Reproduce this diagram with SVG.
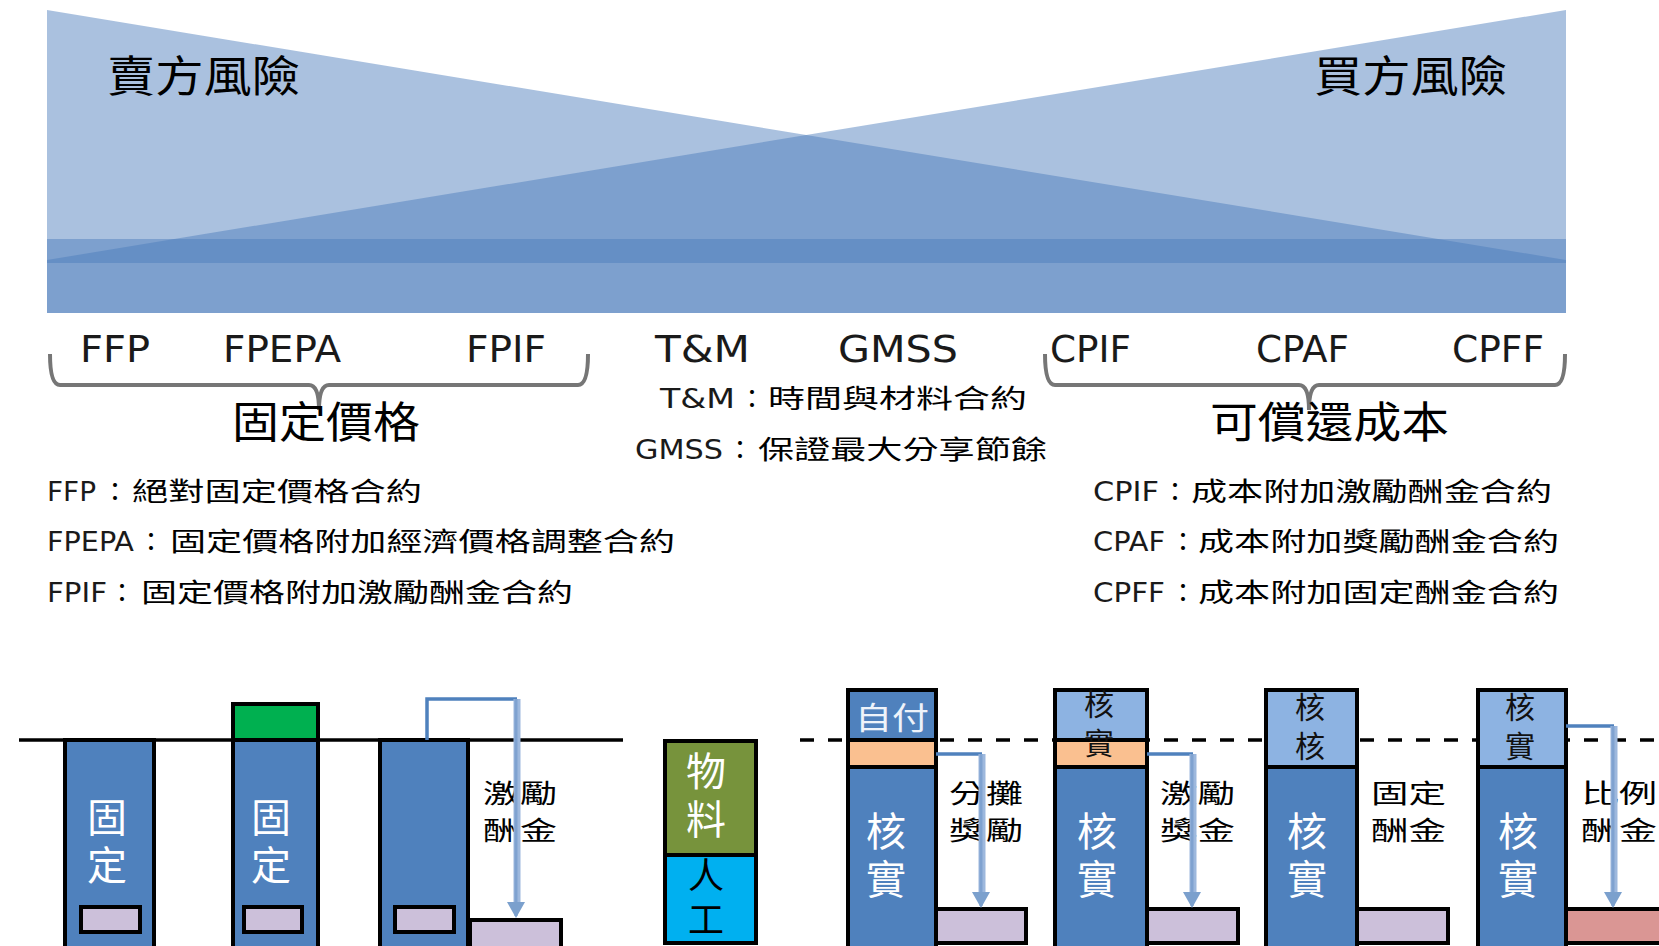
<svg xmlns="http://www.w3.org/2000/svg" width="1659" height="946" viewBox="0 0 1659 946">
<defs>
<style>
.band{fill:#4A7BBA;fill-opacity:0.47}
.lbl{font-family:"DejaVu Sans","Liberation Sans",sans-serif;font-size:37px;fill:#1a1a1a}
.sm{font-family:"DejaVu Sans","Liberation Sans",sans-serif;font-size:26px;fill:#1a1a1a}
.cjk{font-family:"Noto Sans CJK TC","Noto Sans CJK SC",sans-serif;fill:#000}
.row{font-size:26px}
.big{font-size:43px}
.vt{font-family:"Noto Sans CJK TC","Noto Sans CJK SC",sans-serif;font-size:40px;fill:#fff;writing-mode:vertical-rl;letter-spacing:8px}
.vtop{font-family:"Noto Sans CJK TC","Noto Sans CJK SC",sans-serif;font-size:30px;fill:#111;writing-mode:vertical-rl;letter-spacing:9px}
.brace{fill:none;stroke:#767676;stroke-width:4}
.bar{fill:#4F81BD;stroke:#000;stroke-width:4}
.lt{fill:#8DB3E2;stroke:#000;stroke-width:4}
.org{fill:#FAC090;stroke:#000;stroke-width:4}
.lil{fill:#CCC0DA;stroke:#000;stroke-width:4}
.red{fill:#DA9694;stroke:#000;stroke-width:4}
.elbow{fill:none;stroke:#4F81BD;stroke-width:3.5}
.down{fill:none;stroke:#9DB8DD;stroke-width:7}
.downc{fill:none;stroke:#7FA2D0;stroke-width:3}
</style>
<marker id="arr" viewBox="0 0 16 18" refX="14" refY="9" markerWidth="16" markerHeight="18" markerUnits="userSpaceOnUse" orient="auto">
<path d="M0,0 L16,9 L0,18 z" fill="#7BA0CD"/>
</marker>
</defs>
<rect width="1659" height="946" fill="#fff"/>

<g id="risk-background">
<polygon class="band" points="47,10 1566,260 1566,313 47,313"/>
<polygon class="band" points="1566,10 47,260 47,313 1566,313"/>
<rect class="band" x="47" y="239" width="1519" height="24"/>
<text class="cjk big" x="107" y="92" font-size="41" textLength="193" lengthAdjust="spacingAndGlyphs">賣方風險</text>
<text class="cjk big" x="1314" y="92" font-size="41" textLength="193" lengthAdjust="spacingAndGlyphs">買方風險</text>
</g>

<g id="contract-types">
<text class="lbl" x="80" y="362" textLength="70" lengthAdjust="spacingAndGlyphs">FFP</text>
<text class="lbl" x="223" y="362" textLength="118" lengthAdjust="spacingAndGlyphs">FPEPA</text>
<text class="lbl" x="466" y="362" textLength="80" lengthAdjust="spacingAndGlyphs">FPIF</text>
<text class="lbl" x="655" y="362" textLength="95" lengthAdjust="spacingAndGlyphs">T&amp;M</text>
<text class="lbl" x="838" y="362" textLength="120" lengthAdjust="spacingAndGlyphs">GMSS</text>
<text class="lbl" x="1050" y="362" textLength="81" lengthAdjust="spacingAndGlyphs">CPIF</text>
<text class="lbl" x="1256" y="362" textLength="93" lengthAdjust="spacingAndGlyphs">CPAF</text>
<text class="lbl" x="1452" y="362" textLength="92" lengthAdjust="spacingAndGlyphs">CPFF</text>
</g>

<g id="brace-fixed">
<path class="brace" d="M50,354 Q50,385 60,385 L309,385 Q319,385 319,410 Q319,385 329,385 L578,385 Q588,385 588,354"/>
<text class="cjk big" x="232" y="438" textLength="188" lengthAdjust="spacingAndGlyphs">固定價格</text>
</g>

<g id="brace-cost">
<path class="brace" d="M1045,354 Q1045,385 1055,385 L1299,385 Q1309,385 1309,410 Q1309,385 1319,385 L1555,385 Q1565,385 1565,354"/>
<text class="cjk big" x="1210" y="438" textLength="239" lengthAdjust="spacingAndGlyphs">可償還成本</text>
</g>

<g id="definitions">
<text class="sm" y="501"><tspan x="47" textLength="49" lengthAdjust="spacingAndGlyphs">FFP</tspan><tspan class="cjk row" x="102">：</tspan><tspan class="cjk row" x="132" textLength="290" lengthAdjust="spacingAndGlyphs">絕對固定價格合約</tspan></text>
<text class="sm" y="551"><tspan x="47" textLength="87" lengthAdjust="spacingAndGlyphs">FPEPA</tspan><tspan class="cjk row" x="138">：</tspan><tspan class="cjk row" x="170" textLength="505" lengthAdjust="spacingAndGlyphs">固定價格附加經濟價格調整合約</tspan></text>
<text class="sm" y="602"><tspan x="47" textLength="60" lengthAdjust="spacingAndGlyphs">FPIF</tspan><tspan class="cjk row" x="109">：</tspan><tspan class="cjk row" x="141" textLength="432" lengthAdjust="spacingAndGlyphs">固定價格附加激勵酬金合約</tspan></text>
<text class="sm" y="408"><tspan x="660" textLength="75" lengthAdjust="spacingAndGlyphs">T&amp;M</tspan><tspan class="cjk row" x="739">：</tspan><tspan class="cjk row" x="768" textLength="259" lengthAdjust="spacingAndGlyphs">時間與材料合約</tspan></text>
<text class="sm" y="459"><tspan x="635" textLength="88" lengthAdjust="spacingAndGlyphs">GMSS</tspan><tspan class="cjk row" x="727">：</tspan><tspan class="cjk row" x="758" textLength="289" lengthAdjust="spacingAndGlyphs">保證最大分享節餘</tspan></text>
<text class="sm" y="501"><tspan x="1093" textLength="66" lengthAdjust="spacingAndGlyphs">CPIF</tspan><tspan class="cjk row" x="1162">：</tspan><tspan class="cjk row" x="1191" textLength="361" lengthAdjust="spacingAndGlyphs">成本附加激勵酬金合約</tspan></text>
<text class="sm" y="551"><tspan x="1093" textLength="72" lengthAdjust="spacingAndGlyphs">CPAF</tspan><tspan class="cjk row" x="1170">：</tspan><tspan class="cjk row" x="1198" textLength="361" lengthAdjust="spacingAndGlyphs">成本附加獎勵酬金合約</tspan></text>
<text class="sm" y="602"><tspan x="1093" textLength="72" lengthAdjust="spacingAndGlyphs">CPFF</tspan><tspan class="cjk row" x="1170">：</tspan><tspan class="cjk row" x="1198" textLength="361" lengthAdjust="spacingAndGlyphs">成本附加固定酬金合約</tspan></text>
</g>

<g id="baselines">
<line x1="19" y1="740" x2="623" y2="740" stroke="#000" stroke-width="3.5"/>
<line x1="800" y1="740" x2="1659" y2="740" stroke="#000" stroke-width="3.5" stroke-dasharray="14 14"/>
</g>

<g id="bar-ffp">
<rect class="bar" x="65" y="740" width="89" height="230"/>
<text class="vt" x="107" y="797">固定</text>
<rect class="lil" x="81" y="907" width="59" height="25"/>
</g>

<g id="bar-fpepa">
<rect fill="#00B050" stroke="#000" stroke-width="4" x="233" y="704" width="85" height="36"/>
<rect class="bar" x="233" y="740" width="85" height="230"/>
<text class="vt" x="271" y="797">固定</text>
<rect class="lil" x="244" y="907" width="58" height="25"/>
</g>

<g id="bar-fpif">
<rect class="bar" x="380" y="740" width="88" height="230"/>
<rect class="lil" x="395" y="907" width="59" height="25"/>
<rect class="lil" x="470" y="920" width="91" height="50"/>
<text class="cjk row"><tspan x="483" y="803" textLength="74" lengthAdjust="spacingAndGlyphs">激勵</tspan><tspan x="483" y="840" textLength="74" lengthAdjust="spacingAndGlyphs">酬金</tspan></text>
</g>

<g id="bar-tm">
<rect fill="#77933C" stroke="#000" stroke-width="4" x="665" y="741" width="91" height="114"/>
<rect fill="#00B0F0" stroke="#000" stroke-width="4" x="665" y="855" width="91" height="88"/>
<text class="vt" x="706" y="751">物料</text>
<text class="vt" x="706" y="857" style="fill:#000;font-size:36px;letter-spacing:8px">人工</text>
</g>

<g id="bar-cpif">
<rect class="bar" x="848" y="690" width="88" height="50"/>
<rect class="org" x="848" y="740" width="88" height="27"/>
<rect class="bar" x="848" y="767" width="88" height="203"/>
<text class="cjk" x="855" y="729" font-size="31" style="fill:#EEF3FA" textLength="74" lengthAdjust="spacingAndGlyphs">自付</text>
<text class="vt" x="886" y="811">核實</text>
<rect class="lil" x="936" y="909" width="90" height="34"/>
<text class="cjk row"><tspan x="949" y="803" textLength="74" lengthAdjust="spacingAndGlyphs">分攤</tspan><tspan x="949" y="840" textLength="74" lengthAdjust="spacingAndGlyphs">獎勵</tspan></text>
</g>

<g id="bar-cpaf">
<rect class="lt" x="1055" y="690" width="92" height="50"/>
<rect class="org" x="1055" y="740" width="92" height="27"/>
<rect class="bar" x="1055" y="767" width="92" height="203"/>
<text class="vtop" x="1099" y="689">核實</text>
<text class="vt" x="1097" y="811">核實</text>
<rect class="lil" x="1147" y="909" width="91" height="34"/>
<text class="cjk row"><tspan x="1160" y="803" textLength="75" lengthAdjust="spacingAndGlyphs">激勵</tspan><tspan x="1160" y="840" textLength="75" lengthAdjust="spacingAndGlyphs">獎金</tspan></text>
</g>

<g id="bar-cpff">
<rect class="lt" x="1266" y="690" width="91" height="77"/>
<rect class="bar" x="1266" y="767" width="91" height="203"/>
<text class="vtop" x="1310" y="692">核核</text>
<text class="vt" x="1307" y="811">核實</text>
<rect class="lil" x="1357" y="909" width="91" height="34"/>
<text class="cjk row"><tspan x="1371" y="803" textLength="75" lengthAdjust="spacingAndGlyphs">固定</tspan><tspan x="1371" y="840" textLength="75" lengthAdjust="spacingAndGlyphs">酬金</tspan></text>
</g>

<g id="bar-cpff-ratio">
<rect class="lt" x="1478" y="690" width="88" height="77"/>
<rect class="bar" x="1478" y="767" width="88" height="203"/>
<text class="vtop" x="1520" y="692">核實</text>
<text class="vt" x="1518" y="811">核實</text>
<rect class="red" x="1566" y="909" width="110" height="34"/>
<text class="cjk row"><tspan x="1581" y="803" textLength="76" lengthAdjust="spacingAndGlyphs">比例</tspan><tspan x="1581" y="840" textLength="76" lengthAdjust="spacingAndGlyphs">酬金</tspan></text>
</g>

<g id="connectors">
<path class="elbow" d="M427,740 V699 H517"/>
<path class="down" d="M517,699 V902"/>
<path class="downc" d="M516,699 V916" marker-end="url(#arr)"/>
<path class="elbow" d="M936,754 H982"/>
<path class="down" d="M982,754 V892"/>
<path class="downc" d="M981,754 V906" marker-end="url(#arr)"/>
<path class="elbow" d="M1147,754 H1193"/>
<path class="down" d="M1193,754 V892"/>
<path class="downc" d="M1192,754 V906" marker-end="url(#arr)"/>
<path class="elbow" d="M1566,726 H1614"/>
<path class="down" d="M1614,726 V892"/>
<path class="downc" d="M1613,726 V906" marker-end="url(#arr)"/>
</g>
</svg>
